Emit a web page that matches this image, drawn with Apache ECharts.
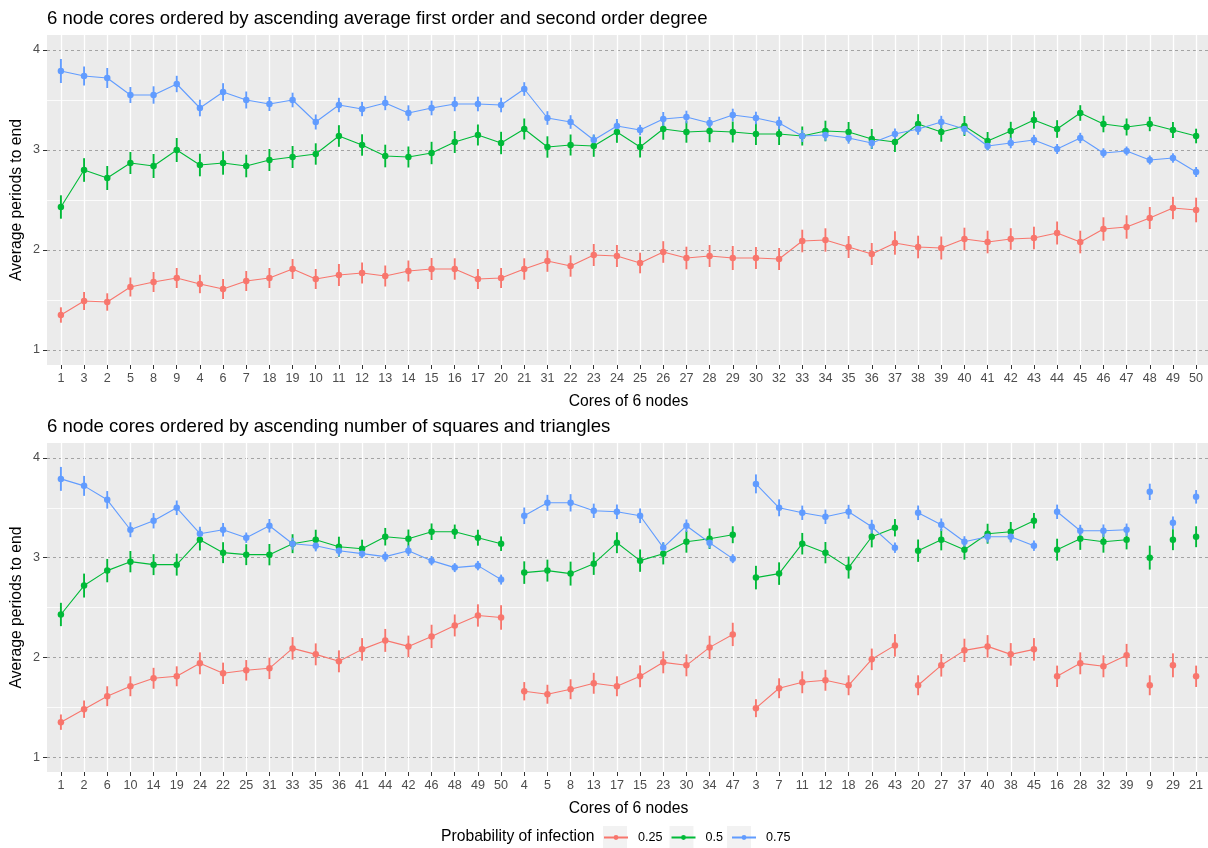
<!DOCTYPE html>
<html><head><meta charset="utf-8">
<script src="https://cdn.jsdelivr.net/npm/echarts@6/dist/echarts.min.js"></script>
<style>html,body{margin:0;padding:0;background:#fff}#c{width:1208px;height:848px}</style>
</head><body><div id="c"></div>
<script>
// ---- DATA (values indexed by core id 1..50) ----
const probLabels = ['0.25', '0.5', '0.75'];
const meanP025 = [1.35,1.48,1.49,1.66,1.63,1.61,1.69,1.68,1.72,1.71, 1.75,1.77,1.74,1.79,1.81,1.81,1.71,1.72,1.81,1.72, 1.81,1.84,1.95,1.94,1.87,1.98,1.92,1.94,1.92,1.92, 1.89,1.91,2.09,2.10,2.03,1.96,2.07,2.03,2.02,2.11, 2.08,2.11,2.12,2.17,2.08,2.21,2.23,2.32,2.42,2.40];
const errP025  = [.077,.087,.09,.092,.095,.10,.10,.10,.10,.10, .11,.105,.105,.105,.11,.107,.10,.10,.10,.10, .107,.107,.11,.11,.103,.108,.113,.11,.12,.11, .108,.11,.113,.117,.11,.11,.117,.113,.115,.113, .113,.108,.113,.115,.113,.117,.117,.11,.112,.123];
const meanP05  = [2.43,2.72,2.80,2.85,2.87,2.87,2.84,2.84,3.00,2.96, 3.14,3.05,2.94,2.93,2.97,3.08,3.15,2.90,2.93,3.07, 3.21,3.05,3.04,3.18,3.03,3.21,3.18,3.19,3.18,3.16, 3.03,3.16,3.14,3.19,3.18,3.11,3.08,3.26,3.18,3.24, 3.09,3.19,3.30,3.21,3.37,3.26,3.23,3.26,3.20,3.14];
const errP05   = [.117,.12,.118,.113,.11,.117,.113,.12,.12,.107, .108,.107,.113,.105,.112,.11,.105,.11,.11,.112, .105,.105,.108,.108,.105,.107,.107,.112,.105,.11, .107,.11,.095,.103,.10,.10,.10,.098,.097,.10, .09,.092,.087,.088,.078,.083,.085,.072,.08,.073];
const meanP075 = [3.79,3.72,3.74,3.42,3.55,3.58,3.50,3.55,3.66,3.28, 3.45,3.41,3.47,3.37,3.42,3.46,3.46,3.46,3.50,3.45, 3.61,3.28,3.10,3.24,3.20,3.31,3.33,3.27,3.35,3.32, 3.32,3.27,3.14,3.15,3.12,3.07,3.16,3.21,3.28,3.21, 3.04,3.07,3.10,3.01,3.12,2.97,2.99,2.90,2.92,2.78];
const errP075  = [.12,.10,.095,.083,.08,.088,.085,.087,.082,.075, .072,.072,.072,.077,.073,.072,.073,.07,.073,.073, .068,.068,.057,.07,.052,.07,.063,.06,.063,.063, .068,.063,.06,.057,.057,.057,.055,.058,.062,.058, .045,.053,.052,.05,.052,.047,.045,.045,.047,.05];

// category order, top panel (one connected group)
const topOrder = [1,3,2,5,8,9,4,6,7,18,19,10,11,12,13,14,15,16,17,20,21,31,22,23,24,25,26,27,28,29,30,32,33,34,35,36,37,38,39,40,41,42,43,44,45,46,47,48,49,50];
// category order, bottom panel (lines broken between groups)
const bottomGroups = [
  [1,2,6,10,14,19,24,22,25,31,33,35,36,41,44,42,46,48,49,50],
  [4,5,8,13,17,15,23,30,34,47],
  [3,7,11,12,18,26,43],
  [20,27,37,40,38,45],
  [16,28,32,39],
  [9],[29],[21]
];
const yTicks = [1, 2, 3, 4];
const yMinor = [1.5, 2.5, 3.5];

const titles = ['6 node cores ordered by ascending average first order and second order degree',
                '6 node cores ordered by ascending number of squares and triangles'];
const xTitle = 'Cores of 6 nodes';
const yTitle = 'Average periods to end';
const legendTitle = 'Probability of infection';

// ---- BUILD ----
const colors = ['#F8766D', '#00BA38', '#619CFF'];
const means = [meanP025, meanP05, meanP075];
const errs = [errP025, errP05, errP075];
const FONT = 'Liberation Sans, Arial, sans-serif';
const bottomOrder = bottomGroups.flat();
const panels = [
  {order: topOrder, groups: [topOrder], top: 35, height: 330},
  {order: bottomOrder, groups: bottomGroups, top: 443, height: 329}
];

const grids = [], xAxes = [], yAxes = [], series = [];
panels.forEach((p, pi) => {
  grids.push({left: 47, top: p.top, width: 1163, height: p.height, show: true,
    backgroundColor: '#EBEBEB', borderWidth: 0, containLabel: false, outerBoundsMode: 'none'});
  const idx = p.order.map((_, i) => i);
  xAxes.push({type: 'value', gridIndex: pi, min: -0.6, max: 49.6, position: 'bottom',
    axisLine: {show: false},
    axisTick: {show: true, length: 4, customValues: idx, lineStyle: {color: '#333', width: 1}},
    axisLabel: {customValues: idx, margin: 7, color: '#4D4D4D', fontSize: 12.6, fontFamily: FONT,
      formatter: v => String(p.order[Math.round(v)])},
    splitLine: {show: true, lineStyle: {color: '#FFFFFF', width: 1.3}},
    name: xTitle, nameLocation: 'middle', nameGap: 28.5, nameMoveOverlap: false,
    nameTextStyle: {fontSize: 15.7, color: '#000', fontFamily: FONT}
  });
  // minor gridlines axis
  yAxes.push({type: 'value', gridIndex: pi, min: 0.85, max: 4.15, position: 'left',
    axisLine: {show: false}, axisTick: {show: false, customValues: yMinor},
    axisLabel: {show: false, customValues: yMinor},
    splitLine: {show: true, lineStyle: {color: '#FFFFFF', width: 0.8}}
  });
  // major axis
  yAxes.push({type: 'value', gridIndex: pi, min: 0.85, max: 4.15, position: 'left',
    axisLine: {show: false},
    axisTick: {show: true, length: 4, customValues: yTicks, lineStyle: {color: '#333', width: 1}},
    axisLabel: {customValues: yTicks, margin: 7, color: '#4D4D4D', fontSize: 12.6, fontFamily: FONT},
    splitLine: {show: true, lineStyle: {color: '#A3A3A3', width: 1, type: [3, 3]}},
    name: yTitle, nameLocation: 'middle', nameGap: 22, nameMoveOverlap: false,
    nameTextStyle: {fontSize: 15.7, color: '#000', fontFamily: FONT}
  });
  const yIdx = pi * 2 + 1;
  probLabels.forEach((lab, k) => {
    // line+points per group
    p.groups.forEach(g => {
      series.push({type: 'line', name: lab, xAxisIndex: pi, yAxisIndex: yIdx,
        data: g.map(c => [p.order.indexOf(c), means[k][c - 1]]),
        symbol: 'circle', symbolSize: 6.5, showSymbol: true,
        lineStyle: {color: colors[k], width: 1.1}, itemStyle: {color: colors[k]},
        emphasis: {disabled: true}, z: 4, animation: false});
    });
    // error bars
    series.push({type: 'custom', name: lab, xAxisIndex: pi, yAxisIndex: yIdx,
      data: p.order.map((c, i) => [i, means[k][c - 1] - errs[k][c - 1], means[k][c - 1] + errs[k][c - 1]]),
      encode: {x: 0, y: [1, 2]},
      renderItem: (params, api) => {
        const a = api.coord([api.value(0), api.value(1)]);
        const b = api.coord([api.value(0), api.value(2)]);
        return {type: 'line', shape: {x1: a[0], y1: a[1], x2: b[0], y2: b[1]},
          style: {stroke: colors[k], lineWidth: 1.9}};
      }, z: 3, animation: false, silent: true});
  });
});

const chart = echarts.init(document.getElementById('c'), null, {renderer: 'canvas'});
chart.setOption({
  animation: false,
  textStyle: {fontFamily: FONT},
  title: [
    {text: titles[0], left: 47, top: 9, padding: 0, textStyle: {fontSize: 18.6, fontWeight: 'normal', color: '#000', fontFamily: FONT}},
    {text: titles[1], left: 47, top: 417, padding: 0, textStyle: {fontSize: 18.6, fontWeight: 'normal', color: '#000', fontFamily: FONT}},
    {text: legendTitle, left: 441, top: 829, padding: 0, textStyle: {fontSize: 15.7, fontWeight: 'normal', color: '#000', fontFamily: FONT}}
  ],
  graphic: [
    {type: 'rect', shape: {x: 603, y: 826, width: 24, height: 22}, style: {fill: '#F2F2F2'}, z: 0},
    {type: 'rect', shape: {x: 669.5, y: 826, width: 24, height: 22}, style: {fill: '#F2F2F2'}, z: 0},
    {type: 'rect', shape: {x: 727, y: 826, width: 24, height: 22}, style: {fill: '#F2F2F2'}, z: 0}
  ],
  legend: {data: probLabels, left: 603, top: 831, padding: 0, itemWidth: 24, itemHeight: 6, itemGap: 8,
    textStyle: {fontSize: 12.6, color: '#000', fontFamily: FONT, padding: [0, 0, 0, 5]},
    selectedMode: false},
  grid: grids, xAxis: xAxes, yAxis: yAxes, series: series
});
</script></body></html>
